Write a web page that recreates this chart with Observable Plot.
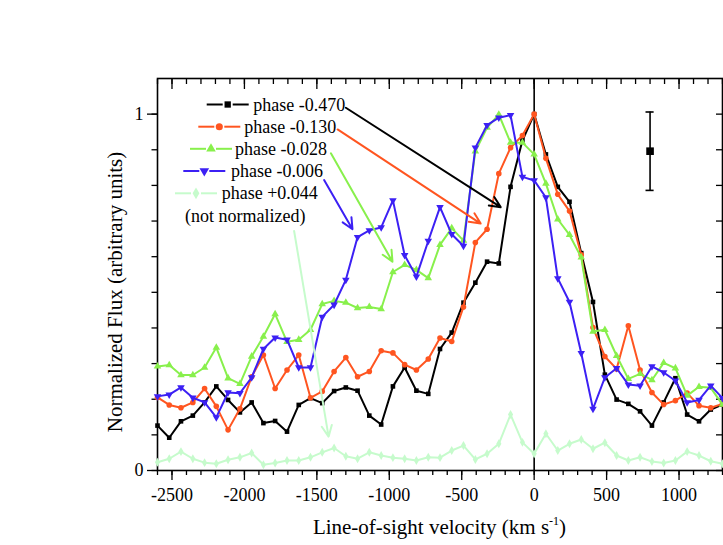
<!DOCTYPE html>
<html>
<head>
<meta charset="utf-8">
<script src="https://cdn.jsdelivr.net/npm/d3@7"></script>
<script src="https://cdn.jsdelivr.net/npm/@observablehq/plot@0.6"></script>
<style>
  html, body { margin: 0; padding: 0; background: #fff; }
  #chart svg { display: block; }
</style>
</head>
<body>
<div id="chart"></div>
<script>
// ---- Data ----
const velocity = [-2600, -2519, -2438, -2356, -2275, -2194, -2113, -2031, -1950, -1869, -1788, -1706, -1625, -1544, -1463, -1381, -1300,
  -1219, -1138, -1056, -975, -894, -813, -731, -650, -569, -488, -406, -325, -244, -163, -81,
  0, 81, 163, 244, 325, 406, 488, 569, 650, 731, 813, 894, 975, 1056, 1138, 1219, 1300];

const phaseM0470 = [0.126, 0.092, 0.138, 0.154, 0.191, 0.236, 0.198, 0.163, 0.191, 0.133, 0.139, 0.109, 0.184, 0.203, 0.189, 0.223, 0.233,
  0.224, 0.154, 0.129, 0.236, 0.289, 0.224, 0.215, 0.341, 0.387, 0.471, 0.527, 0.586, 0.581, 0.796, 0.926,
  1.0, 0.887, 0.796, 0.754, 0.61, 0.473, 0.269, 0.199, 0.187, 0.166, 0.126, 0.191, 0.259, 0.157, 0.138, 0.171, 0.185];

const phaseM0130 = [0.205, 0.184, 0.176, 0.191, 0.230, 0.180, 0.114, 0.173, 0.263, 0.324, 0.230, 0.282, 0.324, 0.204, 0.222, 0.278, 0.317,
  0.263, 0.278, 0.336, 0.330, 0.297, 0.282, 0.313, 0.372, 0.362, 0.459, 0.640, 0.677, 0.833, 0.906, 0.940,
  1.0, 0.876, 0.775, 0.728, 0.605, 0.401, 0.320, 0.285, 0.406, 0.282, 0.219, 0.185, 0.196, 0.217, 0.182, 0.176, 0.187];

const phaseM0028 = [0.292, 0.296, 0.268, 0.268, 0.289, 0.345, 0.259, 0.243, 0.320, 0.376, 0.439, 0.361, 0.367, 0.395, 0.467, 0.476, 0.471,
  0.456, 0.459, 0.453, 0.557, 0.577, 0.563, 0.540, 0.633, 0.680, 0.645, 0.896, 0.962, 0.999, 0.920, 0.920,
  0.887, 0.805, 0.705, 0.661, 0.598, 0.390, 0.395, 0.322, 0.257, 0.271, 0.254, 0.302, 0.287, 0.210, 0.235, 0.232, 0.185];

const phaseM0006 = [0.208, 0.213, 0.233, 0.204, 0.191, 0.149, 0.219, 0.217, 0.261, 0.341, 0.373, 0.367, 0.289, 0.289, 0.431, 0.465, 0.535,
  0.655, 0.674, 0.682, 0.758, 0.604, 0.544, 0.644, 0.739, 0.663, 0.630, 0.906, 0.969, 0.990, 0.997, 0.824,
  0.814, 0.766, 0.539, 0.473, 0.329, 0.173, 0.261, 0.287, 0.241, 0.238, 0.292, 0.275, 0.252, 0.191, 0.198, 0.238, 0.203];

const phaseP0044 = [0.023, 0.033, 0.053, 0.033, 0.022, 0.019, 0.030, 0.037, 0.049, 0.016, 0.021, 0.028, 0.028, 0.037, 0.051, 0.063, 0.040,
  0.033, 0.051, 0.042, 0.036, 0.033, 0.028, 0.037, 0.036, 0.056, 0.070, 0.031, 0.047, 0.075, 0.157, 0.079,
  0.047, 0.103, 0.056, 0.075, 0.087, 0.061, 0.078, 0.042, 0.028, 0.037, 0.025, 0.021, 0.028, 0.053, 0.042, 0.026, 0.019];

const seriesNames = ["phase -0.470", "phase -0.130", "phase -0.028", "phase -0.006", "phase +0.044"];
const legendNote = "(not normalized)";

// typical error bar
const errVelocity = [800];
const errFlux = [0.896];
const errHalf = [0.11];

// annotation arrows (data coordinates)
const arrowStartV = [-1300, -1357, -1403, -1450, -1657];
const arrowStartF = [1.018, 0.957, 0.890, 0.815, 0.672];
const arrowEndV = [-231, -369, -978, -1254, -1419];
const arrowEndF = [0.739, 0.693, 0.586, 0.677, 0.095];

const xMinorTicks = d3.range(-2600, 1301, 100);
const xMajorTicks = [-2500, -2000, -1500, -1000, -500, 0, 500, 1000];
const yMinorTicks = d3.range(0, 11).map(i => i / 10);
const yMajorTicks = [0, 1];

// ---- Styles ----
const colors = ["#000000", "#ff5520", "#88f04c", "#3c20f4", "#c6fbcc"];
const triangleDown = {
  draw(ctx, size) {
    const y = -Math.sqrt(size / (Math.sqrt(3) * 3));
    ctx.moveTo(0, -y * 2);
    ctx.lineTo(-Math.sqrt(3) * y, y);
    ctx.lineTo(Math.sqrt(3) * y, y);
    ctx.closePath();
  }
};
const symbols = ["square", "circle", "triangle", triangleDown, "diamond"];
const radii = [2.6, 2.8, 2.8, 2.8, 2.7];
const d3symbols = [d3.symbolSquare, d3.symbolCircle, d3.symbolTriangle, triangleDown, d3.symbolDiamond];

const seriesValues = [phaseM0470, phaseM0130, phaseM0028, phaseM0006, phaseP0044];
const seriesData = seriesValues.map((vals, s) => velocity.map((v, i) => ({v, f: vals[i]})));
const arrows = arrowStartV.map((_, i) => ({x1: arrowStartV[i], y1: arrowStartF[i], x2: arrowEndV[i], y2: arrowEndF[i], c: colors[i]}));
const err = errVelocity.map((v, i) => ({v, f: errFlux[i], lo: errFlux[i] - errHalf[i], hi: errFlux[i] + errHalf[i]}));

const font = "'Liberation Serif', 'Times New Roman', Times, serif";

const seriesMarks = [];
[0, 1, 2, 3, 4].forEach(s => {
  seriesMarks.push(Plot.line(seriesData[s], {x: "v", y: "f", stroke: colors[s], strokeWidth: 2, strokeLinejoin: "miter"}));
  seriesMarks.push(Plot.dot(seriesData[s], {x: "v", y: "f", fill: colors[s], stroke: "none", symbol: symbols[s], r: radii[s]}));
});

const plot = Plot.plot({
  width: 723,
  height: 545,
  marginLeft: 157,
  marginRight: 1,
  marginTop: 78,
  marginBottom: 75,
  style: {fontFamily: font, fontSize: "18px", background: "#fff", color: "#000", overflow: "visible"},
  x: {domain: [-2600, 1300]},
  y: {domain: [0, 1.1]},
  marks: [
    Plot.axisX({ticks: xMinorTicks, tickSize: 5, tickFormat: () => "", label: null, strokeWidth: 1.3}),
    Plot.axisX({ticks: xMajorTicks, tickSize: 10, tickPadding: 8, tickFormat: d => String(d), label: null, strokeWidth: 1.3, fontSize: 18}),
    Plot.axisX({anchor: "top", ticks: xMinorTicks, tickSize: -5, tickFormat: () => "", label: null, strokeWidth: 1.3}),
    Plot.axisX({anchor: "top", ticks: xMajorTicks, tickSize: -10, tickFormat: () => "", label: null, strokeWidth: 1.3}),
    Plot.axisY({ticks: yMinorTicks, tickSize: 5.5, tickFormat: () => "", label: null, strokeWidth: 1.3}),
    Plot.axisY({ticks: yMajorTicks, tickSize: 10, tickPadding: 4, tickFormat: d => String(d), label: null, strokeWidth: 1.3, fontSize: 18}),
    Plot.axisY({anchor: "right", ticks: yMinorTicks, tickSize: -7, tickFormat: () => "", label: null, strokeWidth: 1.3}),
    Plot.frame({stroke: "#000", strokeWidth: 1.6}),
    Plot.ruleX([0], {stroke: "#000", strokeWidth: 1.6}),
    ...seriesMarks,
    Plot.arrow(arrows, {x1: "x1", y1: "y1", x2: "x2", y2: "y2", stroke: "c", strokeWidth: 2, headLength: 9, headAngle: 50}),
    Plot.ruleX(err, {x: "v", y1: "lo", y2: "hi", stroke: "#000", strokeWidth: 1.6}),
    Plot.ruleY(err, {y: "lo", x1: d => d.v - 28, x2: d => d.v + 28, stroke: "#000", strokeWidth: 1.6}),
    Plot.ruleY(err, {y: "hi", x1: d => d.v - 28, x2: d => d.v + 28, stroke: "#000", strokeWidth: 1.6}),
    Plot.dot(err, {x: "v", y: "f", symbol: "square", r: 4.3, fill: "#000", stroke: "none"})
  ]
});

document.getElementById("chart").appendChild(plot);

// ---- Legend, axis titles (post-render, in SVG) ----
const svg = d3.select(plot);
const legendLayout = [
  {x0: 206.7, y: 104.5, tx: 253.3},
  {x0: 198.3, y: 126.7, tx: 244.3},
  {x0: 190.0, y: 148.8, tx: 235.0},
  {x0: 183.3, y: 171.0, tx: 231.0},
  {x0: 175.0, y: 193.3, tx: 221.7}
];
const lg = svg.append("g").attr("font-family", font).attr("font-size", 18).attr("text-anchor", "start").attr("fill", "#000");
seriesNames.forEach((name, i) => {
  const L = legendLayout[i];
  const len = 42, mid = L.x0 + len / 2, gap = 5;
  lg.append("line").attr("x1", L.x0).attr("x2", mid - gap).attr("y1", L.y).attr("y2", L.y)
    .attr("stroke", colors[i]).attr("stroke-width", 2);
  lg.append("line").attr("x1", mid + gap).attr("x2", L.x0 + len).attr("y1", L.y).attr("y2", L.y)
    .attr("stroke", colors[i]).attr("stroke-width", 2);
  lg.append("path").attr("d", d3.symbol(d3symbols[i], 40)()).attr("transform", `translate(${mid},${L.y})`)
    .attr("fill", colors[i]);
  lg.append("text").attr("x", L.tx).attr("y", L.y + 6).attr("text-anchor", "start").text(name);
});
lg.append("text").attr("x", 185).attr("y", 215.7 + 6).attr("text-anchor", "start").text(legendNote);

const xt = svg.append("text").attr("font-family", font).attr("font-size", 21).attr("fill", "#000")
  .attr("text-anchor", "middle").attr("x", 439.5).attr("y", 534);
xt.append("tspan").text("Line-of-sight velocity (km s");
xt.append("tspan").attr("font-size", 12).attr("dy", -9).text("-1");
xt.append("tspan").attr("dy", 9).text(")");

svg.append("text").attr("font-family", font).attr("font-size", 21).attr("fill", "#000")
  .attr("text-anchor", "middle")
  .attr("transform", "translate(122,292) rotate(-90)")
  .text("Normalized Flux (arbitrary units)");
</script>
</body>
</html>
